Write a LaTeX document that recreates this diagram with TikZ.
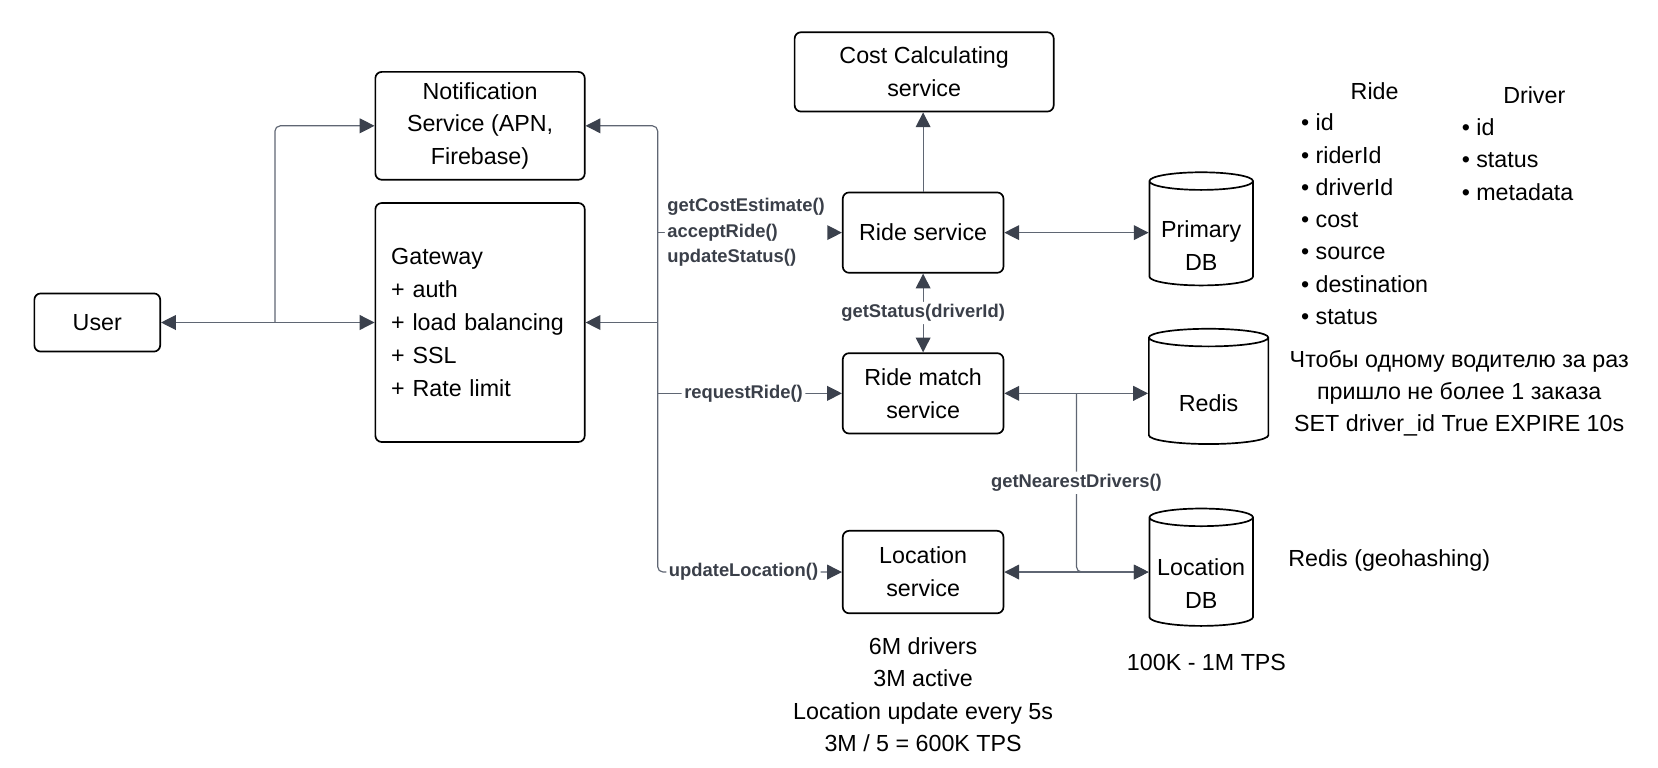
\documentclass[tikz,border=0pt]{standalone}
\usepackage{fontspec}
\setmainfont{Liberation Sans}
\usetikzlibrary{arrows.meta,positioning,shapes.geometric}

\definecolor{wirecol}{HTML}{5F6673}
\definecolor{tipcol}{HTML}{3B414D}
\definecolor{callcol}{HTML}{3A3F49}

\tikzset{
  svc/.style={draw,rounded corners=3pt,line width=0.8pt,align=center,
    font=\fontsize{11}{15.5}\selectfont,inner sep=0pt},
  db/.style={draw,cylinder,shape border rotate=90,aspect=0.22,line width=0.8pt,
    font=\fontsize{11}{15.5}\selectfont,inner sep=0pt},
  dbtext/.style={font=\fontsize{11}{15.5}\selectfont,align=center,yshift=-5.5pt,
    inner sep=0pt},
  wire/.style={draw=wirecol,line width=0.55pt,rounded corners=2.5pt},
  call/.style={font=\fontsize{8.7}{12.1}\selectfont\bfseries,text=callcol,
    fill=white,inner sep=1.2pt,align=left},
  note/.style={font=\fontsize{11}{15.25}\selectfont,align=center,inner sep=0pt},
}

\begin{document}
\begin{tikzpicture}[x=0.5pt,y=-0.5pt,
    >={Triangle[length=7pt,width=7pt,color=tipcol]}]
    \useasboundingbox (0,0) rectangle (1568,726.3);

    % clients and edge
    \node[svc,minimum width=59.5pt,minimum height=27.5pt] (user) at (92,305) {User};
    \node[svc,minimum width=99pt,minimum height=51pt] (notif) at (454,119)
      {Notification\\Service (APN,\\Firebase)};
    \node[svc,minimum width=99pt,minimum height=113pt,text width=84pt,align=left]
      (gate) at (454,305)
      {Gateway\\+ auth\\+ load balancing\\+ SSL\\+ Rate limit};

    % services
    \node[svc,minimum width=122.5pt,minimum height=37.5pt] (cost) at (874,68)
      {Cost Calculating\\service};
    \node[svc,minimum width=76pt,minimum height=38pt] (ride) at (873,220) {Ride service};
    \node[svc,minimum width=76pt,minimum height=38pt] (match) at (873,372)
      {Ride match\\service};
    \node[svc,minimum width=76pt,minimum height=39pt] (loc) at (873,541)
      {Location\\service};

    % storage
    \node[db,minimum width=49pt,minimum height=53.5pt,
      label={[dbtext]center:Primary\\DB}] (pdb) at (1136,221) {\phantom{Primary}};
    \node[db,minimum width=56.5pt,minimum height=54.5pt,
      label={[dbtext]center:Redis}] (redis) at (1143,370) {\phantom{Primary}};
    \node[db,minimum width=49pt,minimum height=55.5pt,
      label={[dbtext]center:Location\\DB}] (ldb) at (1136,541) {\phantom{Primary}};

    % user side
    \coordinate (ubr) at (260,305);
    \draw[wire,<->] (user.east) -- (gate.west);
    \draw[wire,->] (ubr) |- (notif.west);

    % gateway trunk
    \coordinate (tkG) at (622,305);
    \coordinate (tkR) at (622,220);
    \coordinate (tkM) at (622,372);
    \draw[wire,<-] (notif.east) -| (tkG);
    \draw[wire,<-] (gate.east) -- (tkG);
    \draw[wire,->] (tkR) -- node[call,pos=0.48]
      {getCostEstimate()\\acceptRide()\\updateStatus()} (ride.west);
    \draw[wire,->] (tkM) -- node[call,pos=0.466] {requestRide()} (match.west);
    \draw[wire,->] (tkG) |- node[call,pos=0.733] {updateLocation()} (loc.west);

    % service links
    \draw[wire,->] (ride.north) -- (ride.north |- cost.south);
    \draw[wire,<->] (ride) -- node[call] {getStatus(driverId)} (match);
    \draw[wire,<->] (ride.east) -- (ride.east -| pdb.west);
    \draw[wire,<->] (match.east) -- (match.east -| redis.west);
    \draw[wire,<->] (loc.east) -- (loc.east -| ldb.west);
    \coordinate (nd) at (1018,372);
    \draw[wire,->] (nd) |- node[call,pos=0.25] {getNearestDrivers()} (ldb.west);

    % entities
    \node[note] (ridehd) at (1300,86) {Ride};
    \node[note,align=left,anchor=west] (rideattr) at (1230,207.5)
      {• id\\• riderId\\• driverId\\• cost\\• source\\• destination\\• status};
    \node[note] (drvhd) at (1451,90) {Driver};
    \node[note,align=left,anchor=west] (drvattr) at (1382,151)
      {• id\\• status\\• metadata};

    % remarks
    \node[note] (lock) at (1380,372)
      {Чтобы одному водителю за раз\\пришло не более 1 заказа\\SET driver\_id True EXPIRE 10s};
    \node[note,anchor=west] (geo) at (1218,530) {Redis (geohashing)};
    \node[note] (tps) at (1141,627) {100K - 1M TPS};
    \node[note] (load) at (873,657)
      {6M drivers\\3M active\\Location update every 5s\\3M / 5 = 600K TPS};
\end{tikzpicture}
\end{document}
